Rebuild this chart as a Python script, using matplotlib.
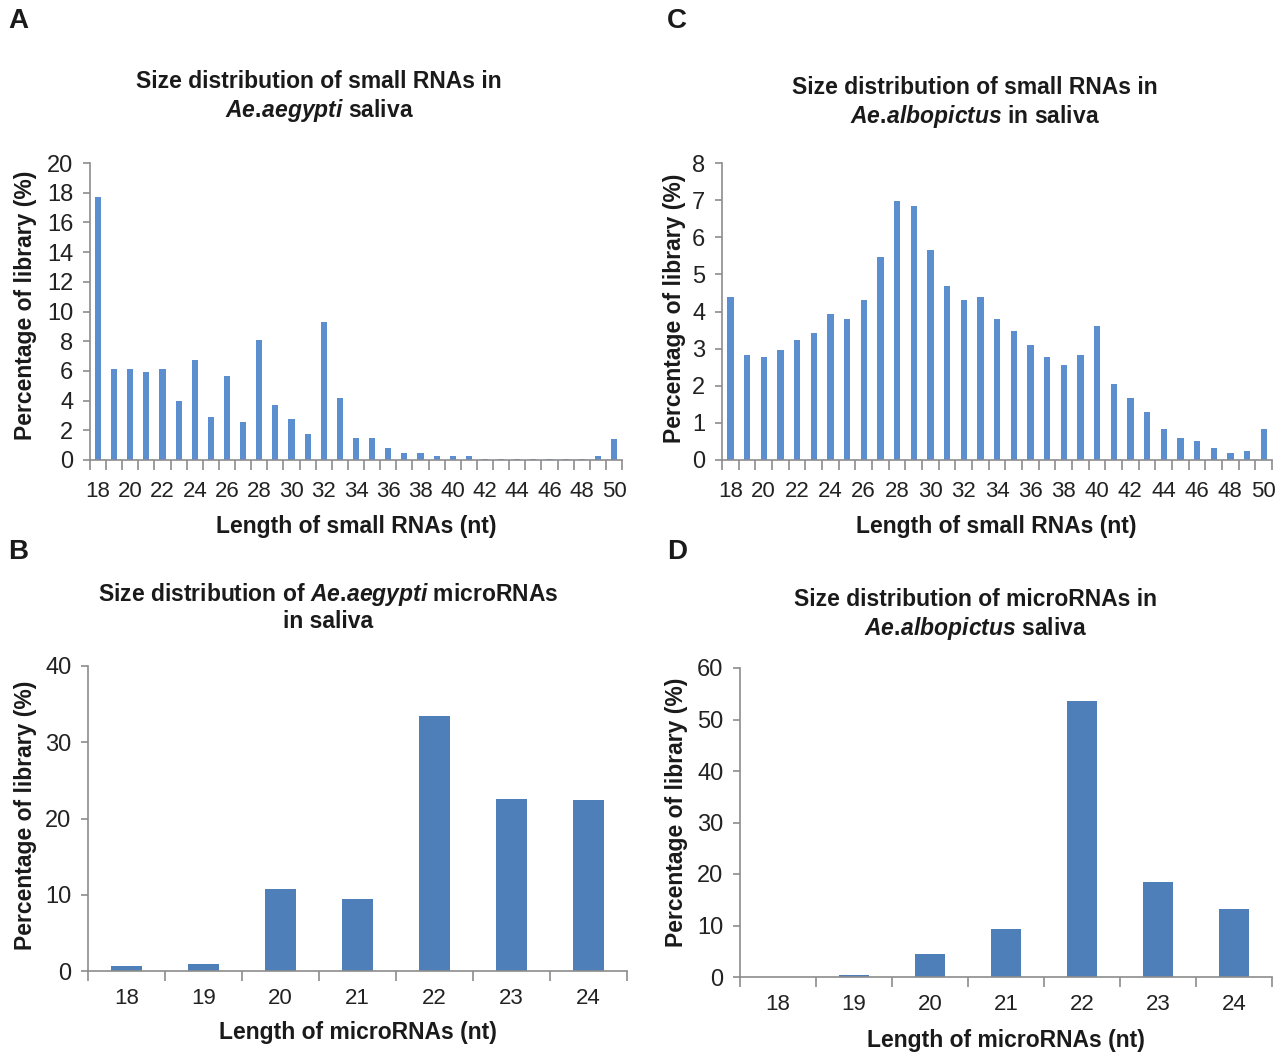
import matplotlib
matplotlib.use("Agg")
import matplotlib.pyplot as plt
from matplotlib.ticker import FixedLocator, NullFormatter

plt.rcParams['font.family'] = ['Liberation Sans', 'DejaVu Sans']
plt.rcParams['mathtext.fontset'] = 'custom'
plt.rcParams['mathtext.it'] = 'Liberation Sans:bold:italic'
plt.rcParams['mathtext.rm'] = 'Liberation Sans:bold'

# ================================
# Data
# ================================
len_small = list(range(18, 51))
aeg_small = [17.7, 6.1, 6.1, 5.95, 6.1, 4.0, 6.75, 2.9, 5.65, 2.55, 8.05,
             3.7, 2.75, 1.75, 9.3, 4.2, 1.45, 1.45, 0.8, 0.45, 0.45, 0.25,
             0.25, 0.3, 0.1, 0.1, 0.1, 0.1, 0.1, 0.1, 0.1, 0.25, 1.4]
alb_small = [4.39, 2.83, 2.77, 2.96, 3.22, 3.41, 3.93, 3.79, 4.31, 5.48, 6.97,
             6.83, 5.67, 4.70, 4.31, 4.39, 3.79, 3.48, 3.09, 2.77, 2.57, 2.83,
             3.60, 2.05, 1.67, 1.29, 0.84, 0.58, 0.50, 0.31, 0.19, 0.25, 0.84]

len_mirna = list(range(18, 25))
aeg_mirna = [0.7, 0.96, 10.7, 9.4, 33.5, 22.5, 22.4]
alb_mirna = [0.0, 0.4, 4.55, 9.36, 53.6, 18.5, 13.3]

W, H = 1277, 1053
fig = plt.figure(figsize=(W / 100, H / 100), dpi=100)

XTICK_FS = 16
YTICK_FS = 17
LAB_FS = 16.5
LETTER_FS = 20


def px_axes(x0, y0, x1, y1):
    return fig.add_axes([x0 / W, 1 - y1 / H, (x1 - x0) / W, (y1 - y0) / H])


def ftext(x, y, s, **kw):
    fig.text(x / W, 1 - y / H, s, ha='center', va='center', **kw)


def style(ax, xs, ymax, ystep, xlabels, xpad):
    ax.set_xlim(xs[0] - 0.5, xs[-1] + 0.5)
    ax.set_ylim(0, ymax)
    ax.set_yticks(range(0, ymax + 1, ystep))
    ax.set_xticks(xlabels)
    ax.xaxis.set_minor_locator(FixedLocator([x - 0.5 for x in xs] + [xs[-1] + 0.5]))
    ax.xaxis.set_minor_formatter(NullFormatter())
    ax.tick_params(axis='x', which='major', length=0, labelsize=XTICK_FS, pad=xpad,
                   labelcolor='#222222')
    ax.tick_params(axis='x', which='minor', length=7, width=1.2, color='#8c8c8c', direction='out')
    ax.tick_params(axis='y', length=5, width=1.2, color='#8c8c8c', labelsize=YTICK_FS,
                   labelcolor='#222222', pad=7)
    for s in ['top', 'right']:
        ax.spines[s].set_visible(False)
    for s in ['left', 'bottom']:
        ax.spines[s].set_color('#8c8c8c')
        ax.spines[s].set_linewidth(1.2)


bold = dict(fontsize=LAB_FS, fontweight='bold', color='#1a1a1a')
ylab = "Percentage of library (%)"

# ================================
# A
# ================================
axA = px_axes(90, 163, 622, 460)
axA.bar(len_small, aeg_small, width=0.38, color='#5b8fcf')
style(axA, len_small, 20, 2, list(range(18, 51, 2)), 15)
ftext(319, 82, "Size distribution of small RNAs in", **bold)
ftext(319, 111, r"$\mathit{Ae.\!aegypti}$ saliva", **bold)
ftext(356, 526, "Length of small RNAs (nt)", **bold)
ftext(26, 305, ylab, rotation=90, **bold)
ftext(18, 21, "A", fontsize=LETTER_FS, fontweight='bold', color='#1a1a1a')

# ================================
# C
# ================================
axC = px_axes(722, 163, 1272, 460)
axC.bar(len_small, alb_small, width=0.38, color='#5b8fcf')
style(axC, len_small, 8, 1, list(range(18, 51, 2)), 15)
ftext(975, 87, "Size distribution of small RNAs in", **bold)
ftext(975, 116, r"$\mathit{Ae.\!albopictus}$ in saliva", **bold)
ftext(996, 527, "Length of small RNAs (nt)", **bold)
ftext(675, 308, ylab, rotation=90, **bold)
ftext(677, 21, "C", fontsize=LETTER_FS, fontweight='bold', color='#1a1a1a')

# ================================
# B
# ================================
axB = px_axes(88, 666, 627, 971)
axB.bar(len_mirna, aeg_mirna, width=0.4, color='#4f7fb8')
style(axB, len_mirna, 40, 10, len_mirna, 12)
ftext(328, 594, r"Size distribution of $\mathit{Ae.\!aegypti}$ microRNAs", **bold)
ftext(328, 622, "in saliva", **bold)
ftext(358, 1033, "Length of microRNAs (nt)", **bold)
ftext(26, 815, ylab, rotation=90, **bold)
ftext(18, 552, "B", fontsize=LETTER_FS, fontweight='bold', color='#1a1a1a')

# ================================
# D
# ================================
axD = px_axes(740, 668, 1272, 977)
axD.bar(len_mirna, alb_mirna, width=0.4, color='#4f7fb8')
style(axD, len_mirna, 60, 10, len_mirna, 12)
ftext(976, 599, "Size distribution of microRNAs in", **bold)
ftext(976, 628, r"$\mathit{Ae.\!albopictus}$ saliva", **bold)
ftext(1006, 1040, "Length of microRNAs (nt)", **bold)
ftext(676, 812, ylab, rotation=90, **bold)
ftext(677, 552, "D", fontsize=LETTER_FS, fontweight='bold', color='#1a1a1a')

fig.savefig("out.png", dpi=100)
